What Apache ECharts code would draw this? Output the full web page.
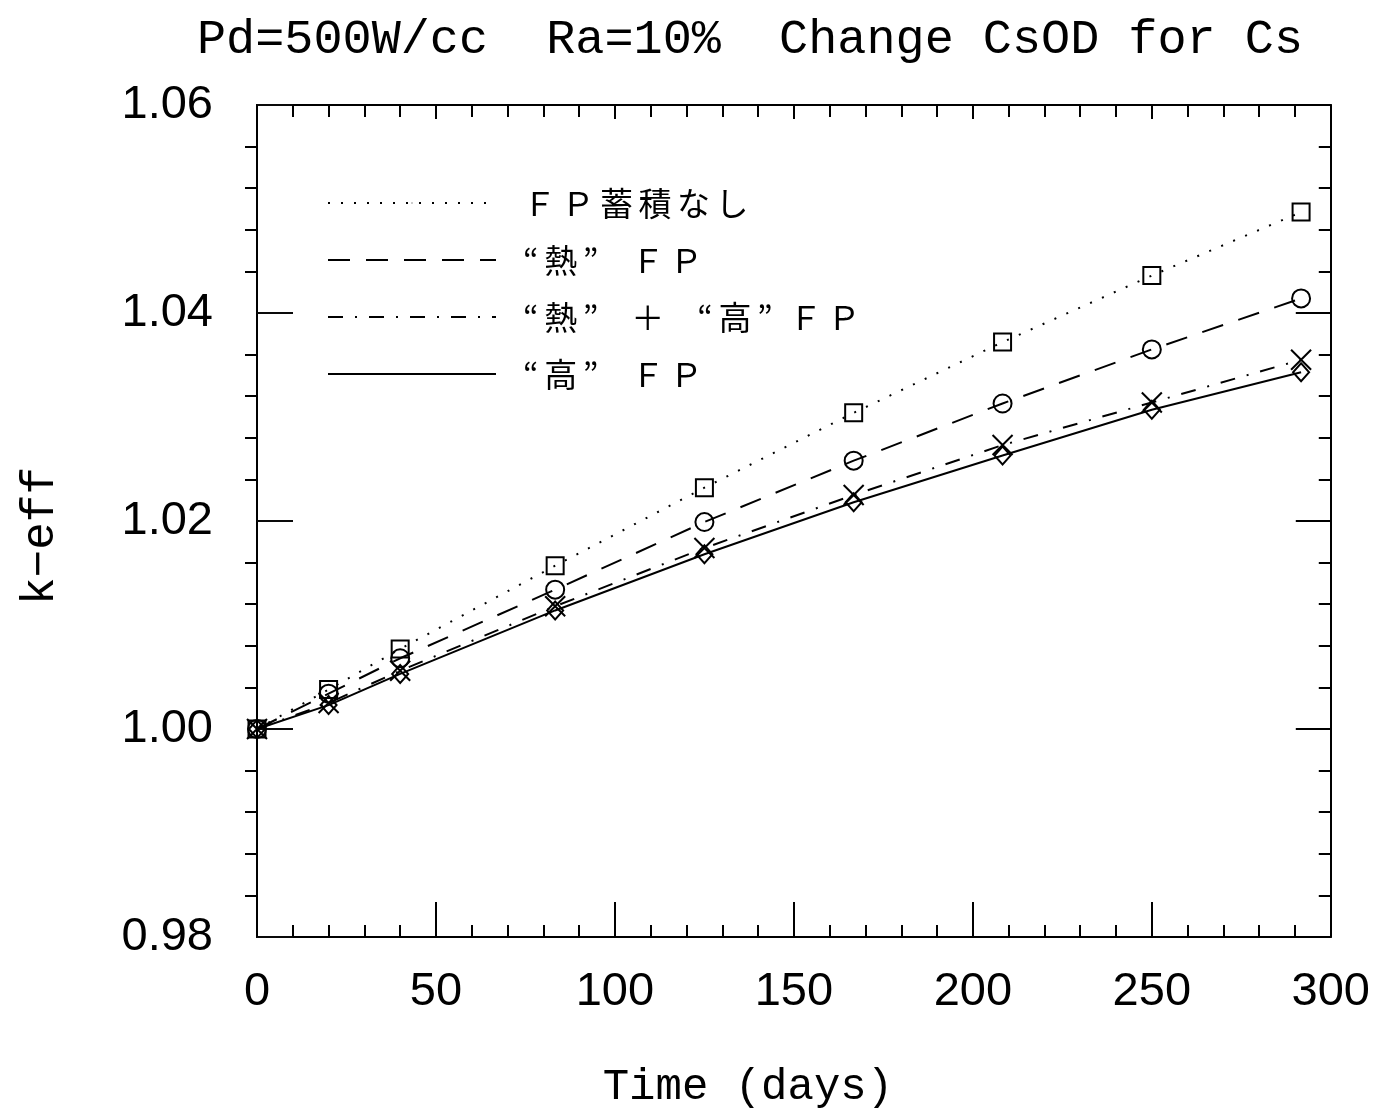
<!DOCTYPE html>
<html>
<head>
<meta charset="utf-8">
<title>k-eff vs Time</title>
<script src="https://cdn.jsdelivr.net/npm/echarts@6/dist/echarts.min.js"></script>
<style>
  html, body { margin: 0; padding: 0; background: #fff; }
  #chart { width: 1373px; height: 1114px; }
</style>
</head>
<body>
<div id="chart"></div>
<script>
// Burnup steps (days)
const days = [0, 20, 40, 83.3, 125, 166.7, 208.3, 250, 291.7];

// k-eff for each FP treatment
const noFP        = [1.0000, 1.0038, 1.0077, 1.0157, 1.0232, 1.0304, 1.0372, 1.0436, 1.0497];
const thermalFP   = [1.0000, 1.0034, 1.0068, 1.0134, 1.0199, 1.0258, 1.0313, 1.0365, 1.0414];
const thermFastFP = [1.0000, 1.0025, 1.0056, 1.0118, 1.0174, 1.0225, 1.0273, 1.0314, 1.0355];
const fastFP      = [1.0000, 1.0023, 1.0053, 1.0114, 1.0168, 1.0218, 1.0263, 1.0307, 1.0343];

const seriesNames = [
  'Ｆ\u2006Ｐ\u2006蓄\u2006積\u2006な\u2006し',
  '“\u2006熱\u2006”　Ｆ\u2006Ｐ',
  '“\u2006熱\u2006”　＋　“\u2006高\u2006”\u2002Ｆ\u2006Ｐ',
  '“\u2006高\u2006”　Ｆ\u2006Ｐ'
];

const xTicks = [0, 50, 100, 150, 200, 250, 300];
const yTicks = [0.98, 1.00, 1.02, 1.04, 1.06];

const pair = (ys) => days.map((d, i) => [d, ys[i]]);

const chart = echarts.init(document.getElementById('chart'));

const monoFont = '"Liberation Mono", "DejaVu Sans Mono", monospace';
const numFont = '"Liberation Sans", Arial, sans-serif';
const jpFont = '"Noto Sans CJK JP", sans-serif';

// fresh style object per axis part
const ink = (c) => ({ color: c || '#000', width: 2 });

function frame(extra) {
  return Object.assign({
    type: 'value',
    axisLine: { show: true, onZero: false, lineStyle: ink() },
    splitLine: { show: false },
    minorSplitLine: { show: false }
  }, extra);
}

function ticks(majorLen, minorLen) {
  return {
    axisTick: { show: true, inside: true, length: majorLen, lineStyle: ink() },
    minorTick: { show: true, splitNumber: 5, length: minorLen, lineStyle: ink() }
  };
}

function lineSeries(name, ys, symbol, size, dash) {
  return {
    name: name,
    type: 'line',
    data: pair(ys),
    symbol: symbol,
    symbolSize: size,
    color: '#000',
    showAllSymbol: true,
    itemStyle: { color: 'rgba(0,0,0,0)', borderColor: '#000', borderWidth: 2 },
    lineStyle: { color: '#000', width: 2, type: dash },
    emphasis: { disabled: true },
    z: 3
  };
}

const yRange = { min: 0.98, max: 1.06, interval: 0.02 };

chart.setOption({
  animation: false,
  backgroundColor: '#fff',
  title: {
    text: 'Pd=500W/cc  Ra=10%  Change CsOD for Cs',
    left: 745,
    textAlign: 'center',
    top: 11,
    textStyle: { fontFamily: monoFont, fontSize: 48.5, fontWeight: 'normal', color: '#000' }
  },
  grid: { left: 257, right: 41, top: 105, bottom: 177 },
  legend: {
    orient: 'vertical',
    left: 322,
    top: 180,
    itemWidth: 168,
    itemHeight: 1,
    itemGap: 21,
    selectedMode: false,
    data: seriesNames,
    itemStyle: { color: '#000', borderWidth: 0 },
    textStyle: {
      fontFamily: jpFont,
      fontSize: 33,
      lineHeight: 36,
      color: '#000',
      rich: { t: { fontFamily: jpFont, fontSize: 33, lineHeight: 36, padding: [0, 0, 0, 22] } }
    },
    formatter: (n) => '{t|' + n + '}'
  },
  xAxis: [
    frame(Object.assign({
      min: 0, max: 300, interval: 50, position: 'bottom',
      name: 'Time (days)', nameLocation: 'middle', nameGap: 128,
      nameTextStyle: { fontFamily: monoFont, fontSize: 44, color: '#000', padding: [0, 92, 0, 0] },
      axisLabel: {
        margin: 32, fontFamily: numFont, fontSize: 47, color: '#000',
        formatter: (v) => (xTicks.indexOf(v) >= 0 ? String(v) : '')
      }
    }, ticks(35, 12))),
    frame(Object.assign({
      min: 0, max: 300, interval: 50, position: 'top',
      axisLabel: { show: false }
    }, ticks(14, 12)))
  ],
  yAxis: [
    // labelled left axis
    frame(Object.assign({
      position: 'left',
      name: 'k−eff', nameLocation: 'middle', nameGap: 193, nameRotate: 90,
      nameTextStyle: { fontFamily: monoFont, fontSize: 46, color: '#000', padding: [0, 30, 0, 0] },
      axisTick: { show: false },
      minorTick: { show: false },
      axisLabel: {
        margin: 44, fontFamily: numFont, fontSize: 47, color: '#000',
        formatter: (v) => {
          const t = yTicks.find((k) => Math.abs(k - v) < 1e-6);
          return t === undefined ? '' : t.toFixed(2);
        }
      }
    }, yRange)),
    // right frame edge
    frame(Object.assign({
      position: 'right',
      axisLabel: { show: false }
    }, yRange, ticks(35, 12))),
    // short ticks on the left frame edge
    frame(Object.assign({
      position: 'left',
      axisLabel: { show: false },
      axisTick: { show: false },
      minorTick: { show: true, splitNumber: 5, length: 12, lineStyle: ink() }
    }, yRange)),
    // long ticks on the left frame edge: an unlined axis set 36px inside the frame,
    // whose outward ticks reach back to the frame line
    {
      type: 'value',
      position: 'left',
      offset: -36,
      min: yRange.min, max: yRange.max, interval: yRange.interval,
      axisLine: { show: false, onZero: false },
      axisTick: { show: true, inside: false, length: 36, lineStyle: ink('#0a0a0a') },
      minorTick: { show: false },
      axisLabel: { show: false },
      splitLine: { show: false },
      minorSplitLine: { show: false }
    }
  ],
  series: [
    lineSeries(seriesNames[0], noFP, 'rect', 17, [2, 11]),
    lineSeries(seriesNames[1], thermalFP, 'circle', 18, [22, 16]),
    lineSeries(seriesNames[2], thermFastFP, 'path://M0,0L10,10M10,0L0,10', 20, [15, 12, 2, 12]),
    lineSeries(seriesNames[3], fastFP, 'diamond', [16, 18], 'solid')
  ]
});
</script>
</body>
</html>
